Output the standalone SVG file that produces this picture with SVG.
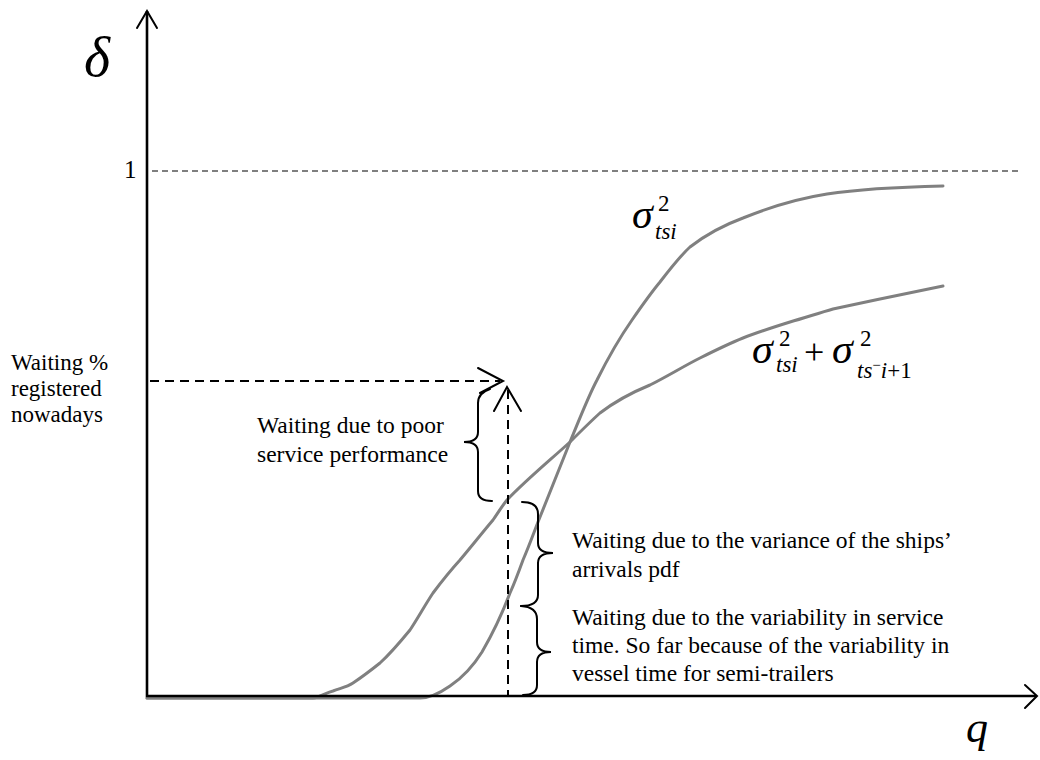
<svg xmlns="http://www.w3.org/2000/svg" width="1040" height="760" viewBox="0 0 1040 760">
  <style>
    .txt { font-family: "Liberation Serif", "Times New Roman", serif; fill: #000; }
    .note { font-size: 23.5px; }
    .math { font-style: italic; }
    .idx { font-size: 23px; }
    .axis { stroke: #000; stroke-width: 2.6; fill: none; }
    .curve { stroke: #808080; stroke-width: 3; fill: none; stroke-linejoin: round; stroke-linecap: round; }
    .guide { stroke: #000; stroke-width: 2; fill: none; stroke-dasharray: 9 6; }
    .thin-guide { stroke: #000; stroke-width: 1.2; fill: none; stroke-dasharray: 6 4; }
    .head { stroke: #000; stroke-width: 2; fill: none; stroke-linecap: round; stroke-linejoin: miter; }
    .brace { stroke: #000; stroke-width: 2; fill: none; stroke-linecap: round; }
  </style>
  <rect width="1040" height="760" fill="#fff"/>

  <!-- level of delta = 1 -->
  <line class="thin-guide" x1="152" y1="171" x2="1018" y2="171"/>

  <!-- response curves -->
  <g id="curves">
    <path id="curve-tsi" class="curve" d="M147,698 L420,698 C428,698 440,693 450,686 C462,678 472,668 482,652 C493,633 502,614 510,593 C515,582 519,571 523,560 C529,546 533,535 538,522 C546,502 555,480 570,442 C580,418 588,397 597,380 C605,364 618,340 632,320 C641,307 650,294 660,282 C670,269 680,256 690,247 C708,233 724,225 743,218 C770,207 795,199 827,194 C860,189 900,187 943,186"/>
    <path id="curve-sum" class="curve" d="M147,698 L313,698 C320,697 325,693 333,691 C341,688 347,687 353,683 C362,677 370,671 380,663 C391,653 401,641 410,630 C418,618 425,605 433,593 C442,581 450,571 460,560 C471,547 482,533 493,520 C498,513 502,506 507,500 C525,481 548,462 570,442 C580,432 590,422 600,413 C617,400 633,392 650,385 C668,376 684,366 700,358 C714,351 728,344 743,338 C758,332 774,327 790,322 C804,318 819,313 833,309 C870,301 905,294 943,286"/>
  </g>

  <!-- axes -->
  <g id="axes">
    <line class="axis" x1="147" y1="11" x2="147" y2="697"/>
    <line class="axis" x1="146" y1="696" x2="1036" y2="696"/>
    <polyline class="head" points="137,28 147,11 157,28"/>
    <polyline class="head" points="1025,685 1037,696 1025,708"/>
  </g>

  <!-- connectors: dashed reading lines and braces -->
  <g id="connectors">
    <line class="guide" x1="150" y1="381" x2="500" y2="381"/>
    <polyline class="head" points="478,368 503,381 480,393"/>
    <line class="guide" x1="508" y1="390" x2="508" y2="697"/>
    <polyline class="head" points="494,411 507,387 521,411"/>
    <path class="brace" d="M490,389 Q478,393 478,403 L478,432 Q478,442 464,442 Q478,442 478,452 L478,491 Q478,501 492,501"/>
    <path class="brace" d="M522,502 Q538,502 538,514 L538,543 Q538,553 553,553 Q538,553 538,563 L538,595 Q538,606 521,606"/>
    <path class="brace" d="M521,606 Q537,607 537,619 L537,642 Q537,652 551,652 Q537,652 537,662 L537,685 Q537,695 523,695"/>
  </g>

  <!-- axis labels -->
  <g id="axis-labels">
    <text class="txt math" x="84" y="76" font-size="56">δ</text>
    <text class="txt math" x="966" y="742" font-size="44">q</text>
    <text class="txt" x="124" y="178" font-size="25">1</text>
  </g>

  <g id="label-waiting-now">
    <text class="txt" x="11" font-size="23">
      <tspan x="11" y="370">Waiting %</tspan>
      <tspan x="11" y="396">registered</tspan>
      <tspan x="11" y="422">nowadays</tspan>
    </text>
  </g>

  <g id="label-poor-service">
    <text class="txt note">
      <tspan x="257" y="433">Waiting due to poor</tspan>
      <tspan x="257" y="462">service performance</tspan>
    </text>
  </g>

  <g id="label-arrivals">
    <text class="txt note">
      <tspan x="572" y="548">Waiting due to the variance of the ships’</tspan>
      <tspan x="572" y="577">arrivals pdf</tspan>
    </text>
  </g>

  <g id="label-service-time">
    <text class="txt note">
      <tspan x="572" y="625">Waiting due to the variability in service</tspan>
      <tspan x="572" y="653">time. So far because of the variability in</tspan>
      <tspan x="572" y="681">vessel time for semi-trailers</tspan>
    </text>
  </g>

  <!-- curve labels -->
  <g id="label-curve-tsi">
    <text class="txt math" x="632" y="228" font-size="42">σ</text>
    <text class="txt idx" x="658" y="211">2</text>
    <text class="txt math idx" x="655" y="239">tsi</text>
  </g>

  <g id="label-curve-sum">
    <text class="txt math" x="752" y="363" font-size="42">σ</text>
    <text class="txt idx" x="779" y="346">2</text>
    <text class="txt math idx" x="776" y="372">tsi</text>
    <text class="txt" x="804" y="364" font-size="36">+</text>
    <text class="txt math" x="832" y="363" font-size="42">σ</text>
    <text class="txt idx" x="860" y="346">2</text>
    <text class="txt math idx" x="857" y="378">ts<tspan dy="-8" font-size="15" font-style="normal">−</tspan><tspan dy="8">i</tspan><tspan font-style="normal">+1</tspan></text>
  </g>
</svg>
